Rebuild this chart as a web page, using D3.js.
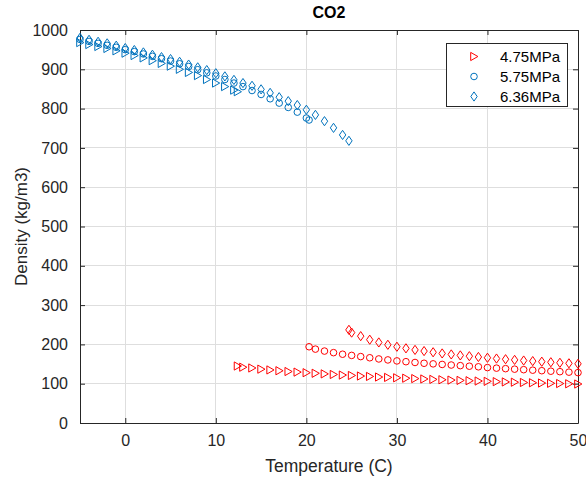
<!DOCTYPE html>
<html>
<head>
<meta charset="utf-8">
<script src="https://cdn.jsdelivr.net/npm/d3@7"></script>
<style>
  html, body { margin: 0; padding: 0; background: #fff; }
  svg { display: block; font-family: "Liberation Sans", Arial, Helvetica, sans-serif; }
</style>
</head>
<body>
<svg id="chart" width="586" height="478"></svg>
<script>
// CO2 density vs temperature at three pressures (liquid branch in blue, vapour branch in red)
const xTicks = [0, 10, 20, 30, 40, 50];
const yTicks = [0, 100, 200, 300, 400, 500, 600, 700, 800, 900, 1000];
const legendLabels = ["4.75MPa", "5.75MPa", "6.36MPa"];

// 4.75 MPa
const liq475T = [-5, -4, -3, -2, -1, 0, 1, 2, 3, 4, 5, 6, 7, 8, 9, 10, 11, 12, 12.4];
const liq475Rho = [968, 963, 958, 953, 947, 941, 935, 929, 922, 915, 908, 900, 892, 884, 874, 865, 856, 847, 843];
const vap475T = [12.4, 13, 14, 15, 16, 17, 18, 19, 20, 21, 22, 23, 24, 25, 26, 27, 28, 29, 30, 31, 32, 33, 34, 35, 36, 37, 38, 39, 40, 41, 42, 43, 44, 45, 46, 47, 48, 49, 50];
const vap475Rho = [145, 142, 140, 137, 135, 133, 131, 129.5, 128, 126.5, 125, 123.5, 122, 121, 119.5, 118.5, 117, 116, 115, 114, 113, 112, 111, 110, 109.2, 108.4, 107.6, 106.8, 106, 105.2, 104.5, 103.8, 103.1, 102.4, 101.7, 101, 100.4, 99.8, 99.2];

// 5.75 MPa
const liq575T = [-5, -4, -3, -2, -1, 0, 1, 2, 3, 4, 5, 6, 7, 8, 9, 10, 11, 12, 13, 14, 15, 16, 17, 18, 19, 20, 20.3];
const liq575Rho = [976, 971, 966, 961, 956, 950, 945, 939, 933, 927, 921, 914, 907, 899, 891, 883, 874, 865, 856, 846, 836, 825, 814, 803, 791, 776, 771];
const vap575T = [20.3, 21, 22, 23, 24, 25, 26, 27, 28, 29, 30, 31, 32, 33, 34, 35, 36, 37, 38, 39, 40, 41, 42, 43, 44, 45, 46, 47, 48, 49, 50];
const vap575Rho = [194, 188, 183, 179, 175, 172, 169, 166, 163, 160.5, 158, 156, 154, 152, 150.5, 149, 147.5, 146, 144.5, 143, 141, 139.6, 138.3, 137, 135.7, 134.4, 133.1, 131.8, 130.6, 129.4, 128.2];

// 6.36 MPa
const liq636T = [-5, -4, -3, -2, -1, 0, 1, 2, 3, 4, 5, 6, 7, 8, 9, 10, 11, 12, 13, 14, 15, 16, 17, 18, 19, 20, 21, 22, 23, 24, 24.7];
const liq636Rho = [980, 975, 970, 966, 960, 954, 949, 943, 937, 931, 926, 919, 912, 905, 898, 890, 882, 873, 865, 858, 849, 840, 829, 819, 809, 797, 784, 768, 751, 733, 718];
const vap636T = [24.7, 25, 26, 27, 28, 29, 30, 31, 32, 33, 34, 35, 36, 37, 38, 39, 40, 41, 42, 43, 44, 45, 46, 47, 48, 49, 50];
const vap636Rho = [237, 230, 221, 212, 205, 199, 194, 190, 186, 183, 180, 177, 174.5, 172, 170, 168, 166, 164, 162.3, 160.6, 159, 157.5, 156, 154.6, 153.2, 151.9, 150.6];

const BLUE = "#0072BD", RED = "#FF0000", AX = "#262626", GRID = "#dedede";

const svg = d3.select("#chart");
const plotLeft = 80, plotRight = 578, plotTop = 30, plotBottom = 423;
const x = d3.scaleLinear().domain([-5, 50]).range([plotLeft, plotRight]);
const y = d3.scaleLinear().domain([0, 1000]).range([plotBottom, plotTop]);

// grid
const g = svg.append("g");
g.selectAll(".gx").data(xTicks).join("line")
  .attr("x1", d => x(d)).attr("x2", d => x(d)).attr("y1", plotTop).attr("y2", plotBottom)
  .attr("stroke", GRID).attr("stroke-width", 1).attr("shape-rendering", "crispEdges");
g.selectAll(".gy").data(yTicks).join("line")
  .attr("y1", d => y(d)).attr("y2", d => y(d)).attr("x1", plotLeft).attr("x2", plotRight)
  .attr("stroke", GRID).attr("stroke-width", 1).attr("shape-rendering", "crispEdges");

// axes (ticks pointing inward on all four sides)
const tickFont = "16px";
const fmt = d3.format("d");
const axB = svg.append("g").attr("transform", `translate(0,${plotBottom})`)
  .call(d3.axisBottom(x).tickValues(xTicks).tickFormat(fmt).tickSizeInner(-5).tickSizeOuter(0).tickPadding(12));
const axL = svg.append("g").attr("transform", `translate(${plotLeft},0)`)
  .call(d3.axisLeft(y).tickValues(yTicks).tickFormat(fmt).tickSizeInner(-5).tickSizeOuter(0).tickPadding(12));
const axT = svg.append("g").attr("transform", `translate(0,${plotTop})`)
  .call(d3.axisTop(x).tickValues(xTicks).tickSizeInner(-5).tickSizeOuter(0).tickFormat(""));
const axR = svg.append("g").attr("transform", `translate(${plotRight},0)`)
  .call(d3.axisRight(y).tickValues(yTicks).tickSizeInner(-5).tickSizeOuter(0).tickFormat(""));
[axB, axL, axT, axR].forEach(a => {
  a.select(".domain").attr("stroke", AX).attr("stroke-width", 1);
  a.selectAll(".tick line").attr("stroke", AX);
  a.selectAll(".tick text").attr("fill", AX).style("font-size", tickFont)
    .style("font-family", "'Liberation Sans', Arial, sans-serif");
});

// marker shapes
function drawMarker(sel, shape, color) {
  if (shape === "tri") {
    sel.append("path").attr("d", "M-3.3,-4.1L3.9,0L-3.3,4.1Z");
  } else if (shape === "circ") {
    sel.append("circle").attr("r", 3.3);
  } else {
    sel.append("path").attr("d", "M0,-4.6L3.2,0L0,4.6L-3.2,0Z");
  }
  sel.selectAll("path,circle").attr("fill", "none").attr("stroke", color).attr("stroke-width", 1);
}

function plotSeries(T, R, shape, color) {
  const pts = T.map((t, i) => ({ t, r: R[i] }));
  svg.append("g").selectAll("g").data(pts).join("g")
    .attr("transform", d => `translate(${x(d.t)},${y(d.r)})`)
    .each(function () { drawMarker(d3.select(this), shape, color); });
}

plotSeries(liq475T, liq475Rho, "tri", BLUE);
plotSeries(vap475T, vap475Rho, "tri", RED);
plotSeries(liq575T, liq575Rho, "circ", BLUE);
plotSeries(vap575T, vap575Rho, "circ", RED);
plotSeries(liq636T, liq636Rho, "dia", BLUE);
plotSeries(vap636T, vap636Rho, "dia", RED);

// title and axis labels
svg.append("text").attr("x", (plotLeft + plotRight) / 2).attr("y", 18).attr("text-anchor", "middle")
  .attr("font-weight", "bold").attr("font-size", 16).attr("fill", "#000").text("CO2");
svg.append("text").attr("x", (plotLeft + plotRight) / 2).attr("y", 472).attr("text-anchor", "middle")
  .attr("font-size", 17.5).attr("fill", AX).text("Temperature (C)");
svg.append("text").attr("transform", `translate(27,${(plotTop + plotBottom) / 2}) rotate(-90)`)
  .attr("text-anchor", "middle").attr("font-size", 17).attr("fill", AX).text("Density (kg/m3)");

// legend
const lg = svg.append("g");
lg.append("rect").attr("x", 446.5).attr("y", 43.5).attr("width", 121).attr("height", 63)
  .attr("fill", "#fff").attr("stroke", AX).attr("stroke-width", 1);
const legendShapes = [["tri", RED], ["circ", BLUE], ["dia", BLUE]];
legendLabels.forEach((lab, i) => {
  const cy = 56.5 + i * 20;
  const m = lg.append("g").attr("transform", `translate(474,${cy})`);
  drawMarker(m, legendShapes[i][0], legendShapes[i][1]);
  lg.append("text").attr("x", 500).attr("y", cy + 5).attr("font-size", 15).attr("fill", "#000").text(lab);
});
</script>
</body>
</html>
